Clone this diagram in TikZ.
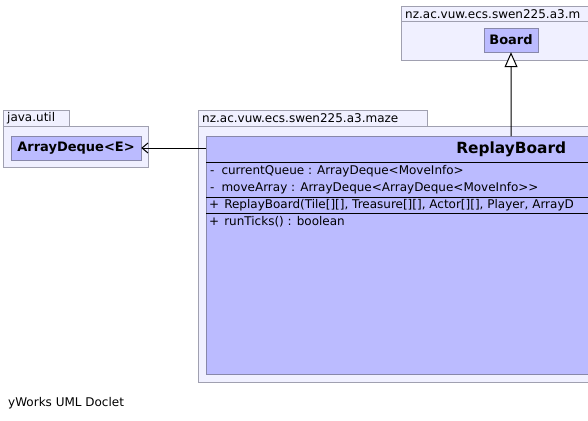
\documentclass[tikz,border=0pt]{standalone}
\usepackage{fontspec}
\setmainfont{DejaVu Sans}
\usetikzlibrary{arrows.meta,positioning,calc}

\definecolor{pkgfill}{RGB}{240,240,255}
\definecolor{pkgline}{RGB}{160,160,176}
\definecolor{clsfill}{RGB}{187,187,255}
\definecolor{clsline}{RGB}{136,136,170}

\begin{document}
\begin{tikzpicture}[
    x=1pt, y=-1pt,
    pkgtab/.style={rectangle, draw=pkgline, fill=pkgfill, anchor=north west,
                   minimum height=16pt, inner ysep=0pt, inner xsep=4pt, align=left,
                   font=\fontsize{12}{14}\selectfont},
    pkgbody/.style={rectangle, draw=pkgline, fill=pkgfill, anchor=north west,
                    inner sep=0pt},
    umlclass/.style={rectangle, draw=clsline, fill=clsfill, inner sep=0pt,
                     minimum height=24pt, font=\fontsize{13}{15}\selectfont\bfseries},
    member/.style={anchor=west, inner sep=0pt, font=\fontsize{12}{14}\selectfont},
    sep/.style={line width=1pt},
    dep/.style={-{Straight Barb[length=6pt,width=10pt]}, line width=1pt},
    gen/.style={-{Triangle[open,length=15pt,width=13pt,fill=white]}, line width=1pt}
  ]
    \useasboundingbox (0,0) rectangle (588,420);
    \clip (0,0) rectangle (588,420);

    %--- java.util ---
    \node[pkgtab, minimum width=66pt, text width=58pt] (utiltab) at (3,110) {java.util};
    \node[pkgbody, minimum width=145pt, minimum height=41pt] (utilpkg) at (3,126) {};
    \node[umlclass, minimum width=130pt] (deque) at (76,148) {ArrayDeque<E>};

    %--- maze package ---
    \node[pkgtab, minimum width=229pt, text width=221pt] (mazetab) at (198,110)
      {nz.ac.vuw.ecs.swen225.a3.maze};
    \node[pkgbody, minimum width=700pt, minimum height=256pt] (mazepkg) at (198,126) {};
    \node[umlclass, anchor=north west, minimum width=610pt, minimum height=238pt]
      (replay) at (206,136) {};
    \node[font=\fontsize{15.4}{17}\selectfont\bfseries, inner sep=0pt]
      (title) at ($(replay.north)+(0,13)$) {ReplayBoard};
    \draw[sep] (replay.north west |- 0,162) -- (588,162);
    \draw[sep] (replay.north west |- 0,197) -- (588,197);
    \draw[sep] (replay.north west |- 0,213) -- (588,213);
    \node[member] (attr1) at (210,171) {-\hspace{7pt}currentQueue : ArrayDeque<MoveInfo>};
    \node[member] (attr2) at (210,188) {-\hspace{7pt}moveArray : ArrayDeque<ArrayDeque<MoveInfo>{}>};
    \node[member] (ctor)  at (209,205) {+\hspace{5pt}ReplayBoard(Tile[][], Treasure[][], Actor[][], Player, ArrayD};
    \node[member] (op1)   at (209,222) {+\hspace{5pt}runTicks() : boolean};

    %--- Board package ---
    \node[pkgtab, minimum width=300pt, minimum height=15pt, text width=292pt] (boardtab) at (401,6)
      {nz.ac.vuw.ecs.swen225.a3.m};
    \node[pkgbody, minimum width=300pt, minimum height=39pt] (boardpkg) at (401,21) {};
    \node[umlclass, minimum width=54pt] (board) at (511,40) {Board};

    %--- relations ---
    \draw[dep] (deque -| replay.west) -- (deque.east);
    \draw[gen] (replay.north) -- (board.south);

    \node[anchor=west, inner sep=0pt, font=\fontsize{12}{14}\selectfont] (footer) at (8,403)
      {yWorks UML Doclet};
  \end{tikzpicture}
\end{document}
